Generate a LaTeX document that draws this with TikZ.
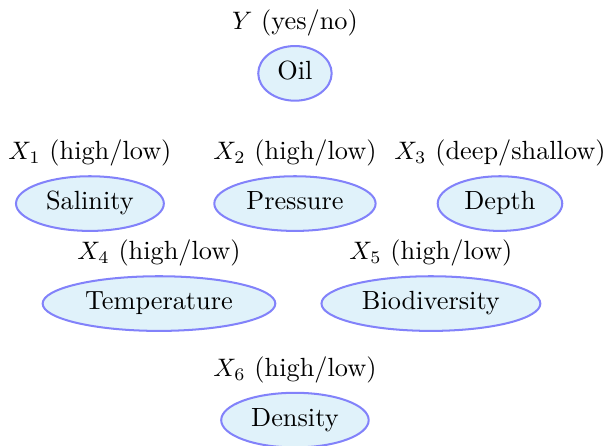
\documentclass[tikz,border=0pt]{standalone}
\usepackage{tikz}
\usetikzlibrary{shapes.geometric}
\definecolor{varfill}{RGB}{224,242,250}
\definecolor{varline}{RGB}{130,130,250}
\tikzstyle{var} = [ellipse, draw=varline, fill=varfill, thick, text centered, text height=1.55ex, text depth=0.45ex]

\begin{document}
\begin{tikzpicture}[font=\fontsize{10.4pt}{12.5pt}\selectfont]
\useasboundingbox (-4.10,1.02) rectangle (4.31,-5.17);
\node (oil) [var, label=above:{$Y$ (yes/no)}] {Oil};

\node (sal) [var, below of=oil, xshift=-2.85cm, yshift=-0.81cm, label=above:{$X_1$ (high/low)}] {Salinity};
\node (pres) [var, below of=oil, yshift=-0.81cm, label=above:{$X_2$ (high/low)}] {Pressure};
\node (depth) [var, below of=oil, xshift=2.85cm, yshift=-0.81cm, label=above:{$X_3$ (deep/shallow)}] {Depth};

\node (temp) [var, below of=oil, xshift=-1.89cm, yshift=-2.2cm, label=above:{$X_4$ (high/low)}] {Temperature};
\node (bio) [var, below of=oil, xshift=1.89cm, yshift=-2.2cm, label=above:{$X_5$ (high/low)}] {Biodiversity};

\node (dens) [var, below of=oil, yshift=-3.82cm, label=above:{$X_6$ (high/low)}] {Density};
\end{tikzpicture}
\end{document}
